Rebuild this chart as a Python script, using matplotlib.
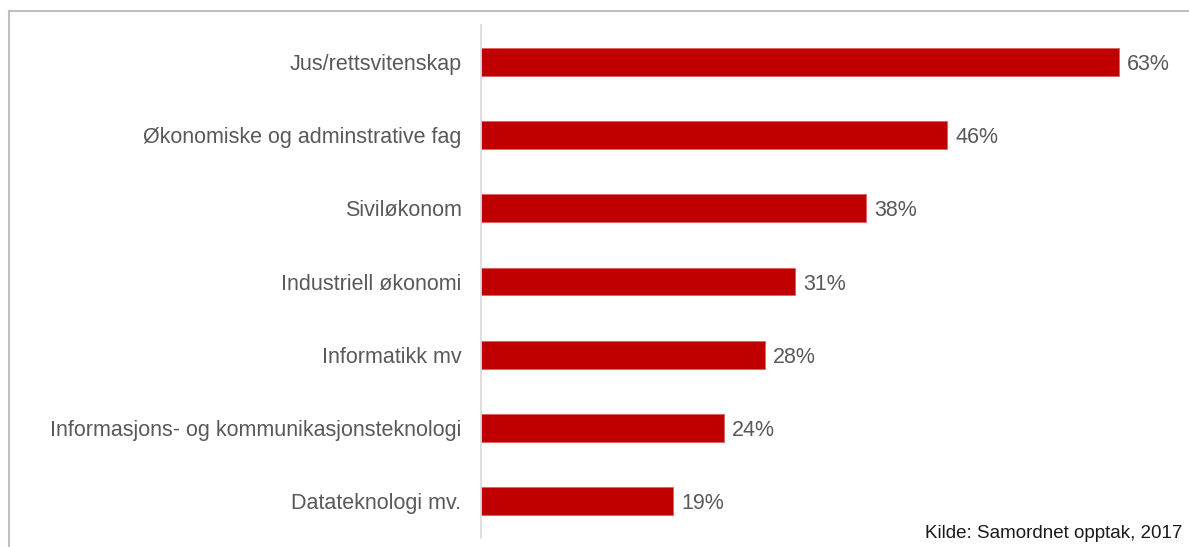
import matplotlib
matplotlib.use("Agg")
import matplotlib.pyplot as plt
from matplotlib.patches import Rectangle

categories = ["Jus/rettsvitenskap", "Økonomiske og adminstrative fag", "Siviløkonom",
              "Industriell økonomi", "Informatikk mv",
              "Informasjons- og kommunikasjonsteknologi", "Datateknologi mv."]
values = [63, 46, 38, 31, 28, 24, 19]
source = "Kilde: Samordnet opptak, 2017"

plt.rcParams['font.family'] = ['Liberation Sans', 'DejaVu Sans']

W, H = 1189, 547
fig = plt.figure(figsize=(W/100, H/100), dpi=100)
fig.patches.append(Rectangle((9/W, -0.1), 1.2, 1 - 11/H + 0.1, transform=fig.transFigure,
                             fill=False, edgecolor='#bfbfbf', linewidth=1.5))

ax = fig.add_axes([481/W, 9/H, 709/W, 513/H])
y = list(range(len(categories)))
ax.barh(y, values, height=0.38, color='#C00000', edgecolor='#e06060', linewidth=0.6)
ax.set_ylim(len(categories) - 0.5, -0.5)
ax.set_xlim(0, 70)
ax.set_yticks(y)
ax.set_yticklabels(categories, fontsize=15.5, color='#595959')
ax.tick_params(axis='y', length=0, pad=14)
ax.set_xticks([])
for s in ['top', 'right', 'bottom']:
    ax.spines[s].set_visible(False)
ax.spines['left'].set_color('#d9d9d9')
ax.spines['left'].set_linewidth(1.2)
for yi, v in zip(y, values):
    ax.text(v + 0.8, yi, f"{v}%", va='center_baseline', ha='left', fontsize=15.5, color='#595959')

fig.text(1182/W, 1 - 538/H, source, ha='right', va='baseline', fontsize=13.5, color='#1a1a1a')
fig.savefig("out.png", dpi=100)
